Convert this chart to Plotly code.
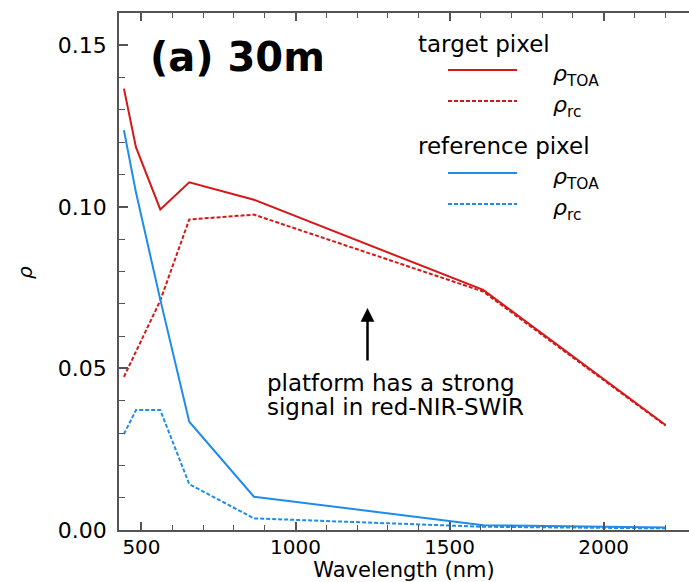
import plotly.graph_objects as go

# Landsat-8 OLI band centres (nm)
wavelength = [443, 482, 561, 655, 865, 1609, 2201]

# Reflectance spectra
target_toa = [0.1366, 0.1185, 0.0992, 0.1076, 0.1022, 0.0743, 0.0325]
target_rc = [0.0474, 0.0553, 0.0710, 0.0961, 0.0976, 0.0738, 0.0323]
ref_toa = [0.1237, 0.1045, 0.0713, 0.0335, 0.0103, 0.0015, 0.0008]
ref_rc = [0.0297, 0.0371, 0.0371, 0.0142, 0.0036, 0.0010, 0.0005]

x_range = [427, 2277]
y_range = [0, 0.16]

RED = "#d41818"
BLUE = "#1e8ceb"
AXIS = "#555555"
FONT = "DejaVu Sans"
DASH = "4px,2px"

W, H = 689, 582
L, R, T, B = 119, 0, 13, 52
PW, PH = W - L - R, H - T - B


def px(xp):
    return (xp - L) / PW


def py(yp):
    return (H - B - yp) / PH


fig = go.Figure()

series = [
    (target_toa, RED, "solid"),
    (target_rc, RED, DASH),
    (ref_toa, BLUE, "solid"),
    (ref_rc, BLUE, DASH),
]
for vals, color, dash in series:
    fig.add_trace(go.Scatter(
        x=wavelength, y=vals, mode="lines",
        line=dict(color=color, width=2, dash=dash),
        showlegend=False, hoverinfo="skip",
    ))

minor_x = dict(dtick=100, tick0=0, ticks="inside", ticklen=5, tickwidth=1.2,
               tickcolor=AXIS, showgrid=False)
minor_y = dict(dtick=0.01, tick0=0, ticks="inside", ticklen=6, tickwidth=1.2,
               tickcolor=AXIS, showgrid=False)

fig.update_layout(
    width=W, height=H,
    margin=dict(l=L, r=R, t=T, b=B, pad=0),
    paper_bgcolor="white", plot_bgcolor="white",
    font=dict(family=FONT, color="black"),
    xaxis=dict(
        range=x_range, tickmode="linear", tick0=0, dtick=500,
        ticks="inside", ticklen=8, tickwidth=1.5, tickcolor=AXIS,
        showline=True, linecolor=AXIS, linewidth=1.5, mirror="ticks",
        showgrid=False, zeroline=False, minor=minor_x,
        tickfont=dict(size=20, family=FONT), ticklabelstandoff=-2,
        title=dict(text="Wavelength (nm)", font=dict(size=21, family=FONT), standoff=3),
    ),
    yaxis=dict(
        range=y_range, tickmode="linear", tick0=0, dtick=0.05, tickformat=".2f",
        ticks="inside", ticklen=9, tickwidth=1.5, tickcolor=AXIS,
        showline=True, linecolor=AXIS, linewidth=1.5, mirror=False,
        showgrid=False, zeroline=False, minor=minor_y,
        tickfont=dict(size=22, family=FONT), ticklabelstandoff=6,
    ),
    yaxis2=dict(
        overlaying="y", side="right", range=y_range, tickmode="linear", tick0=0,
        dtick=0.05, ticks="inside", ticklen=9, tickwidth=1.5, tickcolor=AXIS,
        showticklabels=False, showline=False, showgrid=False, zeroline=False,
        minor=minor_y,
    ),
)

annotations = []
shapes = []

# panel label
annotations.append(dict(
    text="<b>(a) 30m</b>", xref="paper", yref="paper", x=px(148), y=py(57),
    xanchor="left", yanchor="middle", showarrow=False,
    font=dict(size=40, family=FONT, color="black"),
))

# y-axis title
annotations.append(dict(
    text="<i>ρ</i>", xref="paper", yref="paper", x=px(25), y=py(272),
    xanchor="center", yanchor="middle", showarrow=False, textangle=-90,
    font=dict(size=20, family=FONT, color="black"),
))

# legend: group titles, swatches and labels
legend_groups = [
    ("target pixel", 44, RED, 70, 101),
    ("reference pixel", 146, BLUE, 173, 204),
]
for title, ty, color, y_solid, y_dash in legend_groups:
    annotations.append(dict(
        text=title, xref="paper", yref="paper", x=px(416), y=py(ty),
        xanchor="left", yanchor="middle", showarrow=False,
        font=dict(size=23, family=FONT, color="black"),
    ))
    for yl, dash, sub in [(y_solid, "solid", "TOA"), (y_dash, DASH, "rc")]:
        shapes.append(dict(
            type="line", xref="paper", yref="paper",
            x0=px(448), x1=px(517), y0=py(yl), y1=py(yl),
            line=dict(color=color, width=2, dash=dash),
        ))
        annotations.append(dict(
            text=f"<i>ρ</i><sub>{sub}</sub>", xref="paper", yref="paper",
            x=px(551), y=py(yl + 5), xanchor="left", yanchor="middle",
            showarrow=False, font=dict(size=22, family=FONT, color="black"),
        ))

# note with arrow
annotations.append(dict(
    text="", xref="paper", yref="paper", x=px(367.5), y=py(308),
    ax=0, ay=54, showarrow=True, arrowhead=2, arrowsize=1.1, arrowwidth=2.5,
    arrowcolor="black", standoff=0,
))
for line_text, ly in [("platform has a strong", 383), ("signal in red-NIR-SWIR", 407)]:
    annotations.append(dict(
        text=line_text, xref="paper", yref="paper", x=px(265), y=py(ly),
        xanchor="left", yanchor="middle", showarrow=False,
        font=dict(size=23, family=FONT, color="black"),
    ))

fig.update_layout(annotations=annotations, shapes=shapes)

fig.write_html("out.html")
